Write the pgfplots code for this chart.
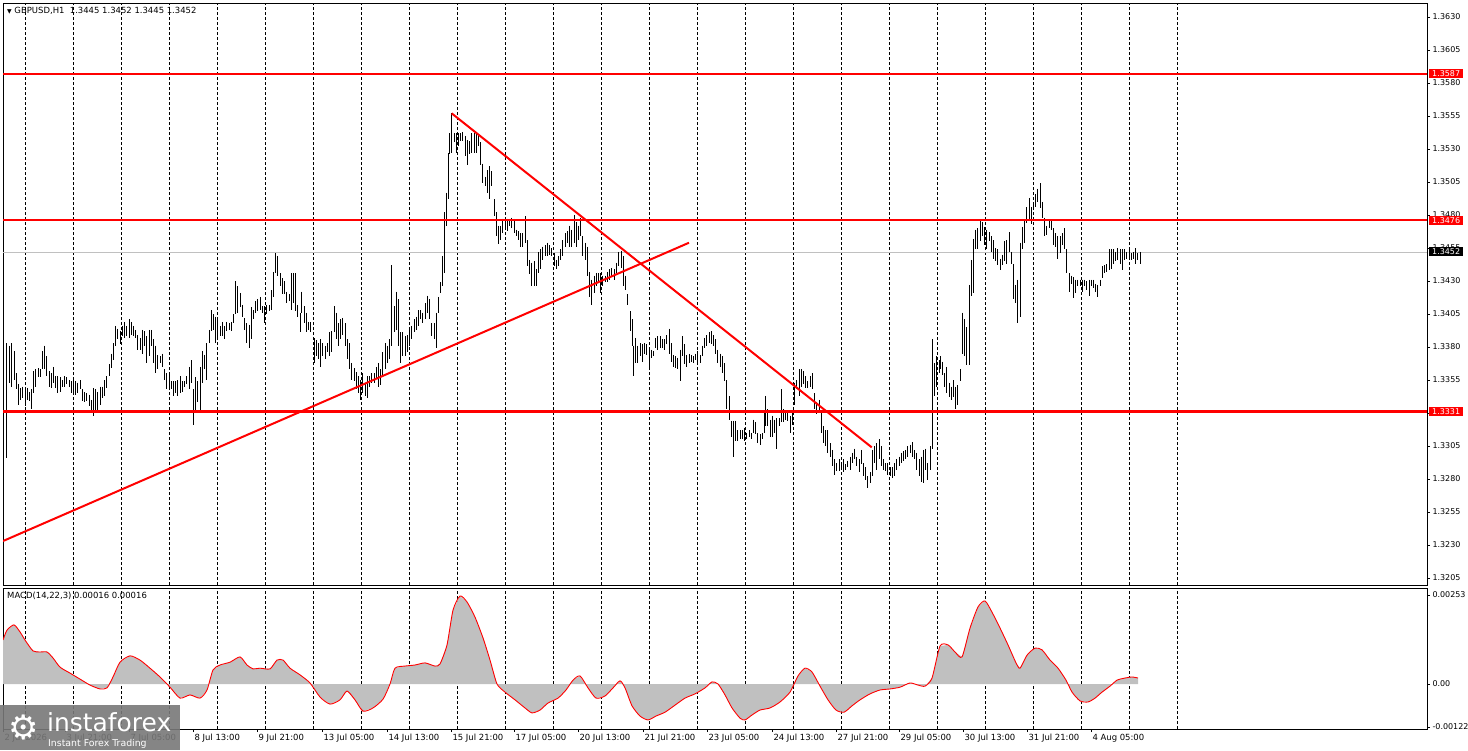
\documentclass[border=0pt]{standalone}
\usepackage{pgfplots}
\pgfplotsset{compat=1.18}
\usepackage{pgfplotstable}
\usepackage{fontspec}
\setmainfont{DejaVu Sans}
\definecolor{silver}{HTML}{C0C0C0}
\definecolor{logogray}{RGB}{120,120,120}

\pgfplotstableread{
x hi lo
3.3 1.3444 1.3325
6.7 1.3383 1.3296
9.0 1.3381 1.3353
11.7 1.3383 1.3350
14.0 1.3377 1.3355
16.0 1.3360 1.3348
18.3 1.3352 1.3336
20.7 1.3349 1.3340
22.7 1.3350 1.3341
25.0 1.3348 1.3335
27.3 1.3349 1.3340
29.3 1.3346 1.3339
31.7 1.3348 1.3333
33.3 1.3362 1.3345
35.7 1.3363 1.3350
38.0 1.3364 1.3357
40.0 1.3363 1.3357
42.3 1.3377 1.3363
44.3 1.3381 1.3363
46.7 1.3373 1.3358
49.0 1.3362 1.3350
51.0 1.3360 1.3349
53.3 1.3365 1.3353
55.7 1.3358 1.3349
57.7 1.3358 1.3345
60.0 1.3357 1.3346
62.3 1.3355 1.3350
64.3 1.3358 1.3350
66.7 1.3357 1.3352
69.0 1.3355 1.3350
71.0 1.3354 1.3345
73.3 1.3355 1.3345
75.7 1.3354 1.3344
77.7 1.3353 1.3345
80.0 1.3355 1.3348
82.3 1.3348 1.3339
84.3 1.3346 1.3338
86.7 1.3345 1.3339
89.0 1.3344 1.3335
91.0 1.3340 1.3331
93.3 1.3349 1.3328
95.7 1.3348 1.3330
97.7 1.3346 1.3331
100.0 1.3350 1.3336
102.3 1.3350 1.3341
104.3 1.3355 1.3343
106.7 1.3358 1.3349
109.0 1.3367 1.3358
111.0 1.3375 1.3364
113.3 1.3383 1.3370
115.7 1.3396 1.3381
117.7 1.3394 1.3386
120.0 1.3392 1.3382
122.3 1.3396 1.3388
124.3 1.3399 1.3387
126.7 1.3396 1.3388
129.0 1.3401 1.3387
131.0 1.3399 1.3389
133.3 1.3396 1.3388
135.7 1.3393 1.3387
137.7 1.3389 1.3378
140.0 1.3387 1.3378
142.3 1.3393 1.3375
144.3 1.3392 1.3381
146.7 1.3388 1.3368
149.0 1.3393 1.3373
151.0 1.3393 1.3381
153.3 1.3386 1.3368
155.7 1.3381 1.3360
157.7 1.3374 1.3363
160.0 1.3373 1.3368
162.3 1.3375 1.3365
164.3 1.3363 1.3355
166.7 1.3360 1.3348
169.0 1.3360 1.3349
171.0 1.3354 1.3348
173.3 1.3354 1.3343
175.7 1.3354 1.3345
177.7 1.3355 1.3343
180.0 1.3358 1.3345
182.3 1.3354 1.3346
184.3 1.3354 1.3350
186.7 1.3358 1.3352
189.0 1.3365 1.3348
191.0 1.3370 1.3353
193.3 1.3348 1.3321
195.7 1.3357 1.3331
197.7 1.3354 1.3338
200.0 1.3365 1.3331
202.3 1.3377 1.3353
204.3 1.3374 1.3363
206.7 1.3383 1.3355
209.0 1.3393 1.3383
211.0 1.3408 1.3392
213.3 1.3405 1.3393
215.7 1.3403 1.3383
217.7 1.3401 1.3386
220.0 1.3396 1.3388
222.3 1.3399 1.3388
224.3 1.3396 1.3386
226.7 1.3399 1.3392
229.0 1.3398 1.3393
231.0 1.3399 1.3392
233.3 1.3405 1.3398
235.7 1.3430 1.3405
237.7 1.3426 1.3406
240.0 1.3421 1.3410
242.3 1.3412 1.3403
244.3 1.3402 1.3393
246.7 1.3398 1.3383
249.0 1.3397 1.3379
251.0 1.3410 1.3386
253.3 1.3408 1.3401
255.7 1.3415 1.3406
257.7 1.3416 1.3407
260.0 1.3418 1.3408
262.3 1.3411 1.3406
264.3 1.3411 1.3398
266.7 1.3412 1.3405
269.0 1.3412 1.3407
271.0 1.3423 1.3408
273.3 1.3437 1.3418
275.7 1.3451 1.3436
277.7 1.3449 1.3434
280.0 1.3436 1.3426
282.3 1.3432 1.3420
284.3 1.3430 1.3420
286.7 1.3422 1.3413
289.0 1.3420 1.3415
291.0 1.3436 1.3408
293.3 1.3436 1.3413
295.7 1.3436 1.3407
297.7 1.3412 1.3403
300.0 1.3406 1.3391
301.7 1.3422 1.3406
304.0 1.3411 1.3398
306.0 1.3406 1.3391
308.3 1.3399 1.3393
310.7 1.3399 1.3391
314.0 1.3387 1.3368
316.0 1.3385 1.3373
318.3 1.3383 1.3371
320.7 1.3386 1.3365
322.7 1.3383 1.3373
325.0 1.3381 1.3371
327.3 1.3383 1.3376
329.3 1.3391 1.3373
331.7 1.3392 1.3376
334.0 1.3411 1.3391
336.0 1.3406 1.3386
338.3 1.3398 1.3381
340.7 1.3401 1.3386
342.7 1.3402 1.3389
345.0 1.3398 1.3381
347.3 1.3386 1.3371
349.3 1.3383 1.3363
351.7 1.3368 1.3355
354.0 1.3364 1.3354
356.0 1.3361 1.3348
358.3 1.3358 1.3345
360.7 1.3355 1.3340
362.7 1.3360 1.3345
365.0 1.3353 1.3343
367.3 1.3358 1.3341
369.3 1.3358 1.3350
371.7 1.3360 1.3353
374.0 1.3360 1.3353
376.0 1.3365 1.3356
378.3 1.3368 1.3350
380.7 1.3363 1.3351
382.7 1.3376 1.3358
385.0 1.3383 1.3363
387.3 1.3381 1.3368
389.3 1.3386 1.3371
391.7 1.3442 1.3381
394.0 1.3411 1.3391
396.0 1.3422 1.3393
398.3 1.3416 1.3381
400.7 1.3391 1.3368
402.7 1.3391 1.3373
405.0 1.3388 1.3373
407.3 1.3389 1.3376
409.3 1.3393 1.3381
411.7 1.3396 1.3386
414.0 1.3401 1.3391
416.0 1.3403 1.3393
418.3 1.3408 1.3396
420.7 1.3408 1.3401
422.7 1.3406 1.3398
425.0 1.3413 1.3401
427.3 1.3419 1.3406
429.3 1.3416 1.3401
431.7 1.3398 1.3388
434.0 1.3398 1.3386
436.0 1.3406 1.3379
438.3 1.3418 1.3406
440.7 1.3429 1.3421
442.7 1.3449 1.3426
444.0 1.3482 1.3436
446.0 1.3497 1.3472
448.3 1.3527 1.3492
449.3 1.3542 1.3526
451.7 1.3557 1.3527
454.0 1.3542 1.3535
456.0 1.3542 1.3527
458.3 1.3542 1.3532
460.7 1.3542 1.3536
462.7 1.3543 1.3536
465.0 1.3540 1.3525
467.3 1.3537 1.3518
469.3 1.3536 1.3526
471.7 1.3542 1.3527
474.0 1.3542 1.3527
476.0 1.3542 1.3527
478.3 1.3541 1.3532
480.7 1.3535 1.3518
482.7 1.3519 1.3504
485.0 1.3509 1.3502
487.3 1.3514 1.3497
489.3 1.3517 1.3492
491.7 1.3513 1.3502
494.0 1.3492 1.3479
496.0 1.3482 1.3464
498.3 1.3472 1.3458
500.7 1.3472 1.3461
502.7 1.3477 1.3466
505.0 1.3478 1.3469
507.3 1.3477 1.3468
509.3 1.3477 1.3472
511.7 1.3478 1.3470
514.0 1.3477 1.3466
516.0 1.3469 1.3464
518.3 1.3468 1.3461
520.7 1.3466 1.3456
522.7 1.3466 1.3456
525.0 1.3479 1.3459
527.3 1.3461 1.3441
529.3 1.3446 1.3435
531.7 1.3444 1.3426
534.0 1.3445 1.3426
536.0 1.3439 1.3426
538.3 1.3452 1.3436
540.7 1.3454 1.3439
542.7 1.3456 1.3446
545.0 1.3457 1.3449
547.3 1.3459 1.3449
549.3 1.3457 1.3450
551.7 1.3455 1.3449
554.0 1.3451 1.3441
556.0 1.3446 1.3439
558.3 1.3449 1.3441
560.7 1.3454 1.3446
562.7 1.3461 1.3449
565.0 1.3466 1.3456
567.3 1.3468 1.3459
569.3 1.3472 1.3456
571.7 1.3469 1.3456
574.0 1.3480 1.3459
576.0 1.3475 1.3456
578.3 1.3472 1.3461
580.7 1.3478 1.3464
582.7 1.3464 1.3449
585.0 1.3459 1.3446
587.3 1.3456 1.3434
589.3 1.3437 1.3418
591.7 1.3431 1.3412
594.0 1.3434 1.3421
596.0 1.3436 1.3426
598.3 1.3436 1.3429
600.7 1.3436 1.3421
602.7 1.3434 1.3426
605.0 1.3434 1.3429
607.3 1.3437 1.3429
609.3 1.3439 1.3431
611.7 1.3440 1.3434
614.0 1.3439 1.3431
616.0 1.3444 1.3436
618.3 1.3452 1.3441
621.0 1.3453 1.3440
623.3 1.3449 1.3426
625.7 1.3434 1.3423
627.7 1.3420 1.3412
630.0 1.3407 1.3392
632.3 1.3401 1.3381
633.3 1.3381 1.3358
635.7 1.3387 1.3368
637.7 1.3381 1.3368
640.0 1.3383 1.3373
642.3 1.3382 1.3369
644.3 1.3383 1.3375
646.7 1.3382 1.3374
649.0 1.3379 1.3363
651.0 1.3378 1.3372
653.3 1.3377 1.3373
655.7 1.3387 1.3379
657.7 1.3388 1.3378
660.0 1.3388 1.3379
662.3 1.3386 1.3379
664.3 1.3386 1.3378
666.7 1.3389 1.3382
669.0 1.3394 1.3375
671.0 1.3383 1.3369
673.3 1.3374 1.3365
675.7 1.3373 1.3364
677.7 1.3372 1.3363
680.0 1.3378 1.3354
682.3 1.3388 1.3373
684.3 1.3382 1.3367
686.7 1.3374 1.3365
689.0 1.3375 1.3368
691.0 1.3374 1.3369
693.3 1.3373 1.3368
695.7 1.3375 1.3370
697.7 1.3377 1.3368
700.0 1.3374 1.3368
702.3 1.3381 1.3373
704.3 1.3387 1.3379
706.7 1.3389 1.3381
709.0 1.3391 1.3383
711.0 1.3392 1.3382
713.3 1.3389 1.3381
715.7 1.3386 1.3375
717.7 1.3378 1.3368
720.0 1.3375 1.3365
722.3 1.3373 1.3360
724.3 1.3368 1.3354
726.7 1.3355 1.3333
729.0 1.3343 1.3325
731.0 1.3324 1.3312
733.3 1.3324 1.3297
735.7 1.3324 1.3309
737.7 1.3317 1.3309
740.0 1.3317 1.3310
742.3 1.3317 1.3310
744.3 1.3319 1.3309
746.7 1.3315 1.3310
749.0 1.3317 1.3312
751.0 1.3315 1.3310
753.3 1.3325 1.3315
755.7 1.3323 1.3314
757.7 1.3315 1.3307
760.0 1.3314 1.3306
762.3 1.3315 1.3310
764.3 1.3330 1.3315
765.7 1.3343 1.3320
767.7 1.3333 1.3320
770.0 1.3325 1.3312
772.3 1.3328 1.3312
774.3 1.3325 1.3315
776.7 1.3326 1.3303
779.0 1.3326 1.3320
781.0 1.3348 1.3323
783.3 1.3333 1.3323
785.7 1.3331 1.3325
787.7 1.3331 1.3324
790.0 1.3328 1.3315
792.3 1.3331 1.3321
794.3 1.3353 1.3336
796.7 1.3355 1.3348
799.0 1.3363 1.3343
801.0 1.3363 1.3350
803.3 1.3362 1.3352
805.7 1.3358 1.3349
807.7 1.3354 1.3349
810.0 1.3358 1.3350
812.3 1.3360 1.3348
814.3 1.3345 1.3333
816.7 1.3338 1.3329
819.0 1.3340 1.3330
821.0 1.3330 1.3315
823.3 1.3320 1.3307
825.7 1.3317 1.3305
827.7 1.3317 1.3300
830.0 1.3307 1.3297
832.3 1.3302 1.3290
834.3 1.3295 1.3283
836.7 1.3292 1.3286
839.0 1.3295 1.3286
841.0 1.3292 1.3287
843.3 1.3295 1.3285
845.7 1.3291 1.3287
847.7 1.3294 1.3289
850.0 1.3297 1.3287
852.3 1.3300 1.3292
854.3 1.3303 1.3295
856.7 1.3297 1.3290
859.0 1.3295 1.3285
861.0 1.3302 1.3291
863.3 1.3292 1.3282
865.7 1.3289 1.3279
867.7 1.3282 1.3273
870.0 1.3285 1.3277
872.3 1.3302 1.3282
874.3 1.3305 1.3292
876.7 1.3307 1.3287
879.0 1.3310 1.3295
881.0 1.3305 1.3290
883.3 1.3295 1.3287
885.7 1.3292 1.3286
887.7 1.3292 1.3283
890.0 1.3289 1.3282
892.3 1.3289 1.3281
894.3 1.3292 1.3282
896.7 1.3295 1.3287
899.0 1.3297 1.3290
901.0 1.3300 1.3292
903.3 1.3301 1.3294
905.7 1.3302 1.3295
907.7 1.3305 1.3297
910.0 1.3306 1.3300
912.3 1.3308 1.3297
914.3 1.3302 1.3295
916.7 1.3300 1.3287
919.0 1.3295 1.3282
921.0 1.3297 1.3278
923.3 1.3302 1.3277
925.7 1.3303 1.3287
927.7 1.3292 1.3279
930.0 1.3305 1.3287
932.3 1.3386 1.3303
934.3 1.3368 1.3343
936.7 1.3373 1.3350
939.0 1.3370 1.3360
940.7 1.3373 1.3363
942.7 1.3369 1.3359
944.3 1.3360 1.3350
946.7 1.3365 1.3345
949.0 1.3353 1.3342
951.0 1.3350 1.3340
953.3 1.3355 1.3342
955.7 1.3350 1.3333
957.7 1.3351 1.3336
960.0 1.3363 1.3354
962.3 1.3406 1.3375
964.3 1.3401 1.3373
966.7 1.3395 1.3366
969.0 1.3427 1.3366
971.0 1.3446 1.3419
973.3 1.3462 1.3421
975.7 1.3469 1.3454
977.7 1.3470 1.3454
980.0 1.3476 1.3460
982.3 1.3475 1.3464
984.3 1.3471 1.3457
986.7 1.3469 1.3454
989.0 1.3467 1.3460
991.0 1.3464 1.3452
993.3 1.3461 1.3447
995.7 1.3455 1.3445
997.7 1.3454 1.3442
1000.0 1.3447 1.3438
1002.3 1.3450 1.3442
1004.3 1.3460 1.3445
1006.7 1.3461 1.3443
1009.0 1.3467 1.3452
1011.0 1.3452 1.3443
1013.3 1.3443 1.3416
1015.7 1.3427 1.3413
1017.7 1.3431 1.3398
1020.0 1.3459 1.3403
1022.3 1.3471 1.3454
1024.3 1.3476 1.3459
1026.7 1.3486 1.3474
1029.0 1.3493 1.3476
1031.0 1.3486 1.3473
1033.3 1.3490 1.3484
1035.7 1.3496 1.3486
1037.7 1.3500 1.3490
1040.0 1.3504 1.3485
1042.3 1.3490 1.3478
1044.3 1.3478 1.3464
1046.7 1.3472 1.3465
1049.0 1.3476 1.3470
1051.0 1.3476 1.3469
1053.3 1.3470 1.3457
1055.7 1.3466 1.3456
1057.7 1.3464 1.3447
1060.0 1.3464 1.3451
1062.3 1.3466 1.3457
1064.3 1.3470 1.3454
1066.7 1.3454 1.3436
1069.0 1.3436 1.3422
1071.0 1.3434 1.3428
1073.3 1.3433 1.3417
1075.7 1.3431 1.3421
1077.7 1.3431 1.3426
1080.0 1.3431 1.3426
1082.3 1.3431 1.3422
1084.3 1.3431 1.3426
1086.7 1.3430 1.3423
1089.0 1.3431 1.3419
1091.0 1.3431 1.3426
1093.3 1.3431 1.3425
1095.7 1.3428 1.3422
1097.7 1.3427 1.3418
1100.0 1.3431 1.3426
1102.3 1.3441 1.3432
1104.3 1.3442 1.3436
1106.7 1.3443 1.3437
1109.0 1.3454 1.3438
1111.0 1.3454 1.3439
1113.3 1.3454 1.3443
1115.7 1.3452 1.3445
1117.7 1.3455 1.3446
1120.0 1.3454 1.3443
1122.3 1.3454 1.3438
1124.3 1.3454 1.3446
1126.7 1.3452 1.3447
1129.0 1.3454 1.3446
1131.0 1.3451 1.3446
1133.3 1.3452 1.3447
1135.7 1.3455 1.3443
1137.7 1.3451 1.3446
1140.0 1.3452 1.3443
}\bars

\pgfplotstableread{
x v
3 0.00125
7 0.00153
14 0.00168
20 0.00148
25 0.00125
33 0.00094
40 0.00091
47 0.00091
53 0.00074
60 0.00048
70 0.00031
80 0.00014
90 -0.00003
100 -0.00014
107 -0.00011
113 0.00020
120 0.00062
130 0.00080
140 0.00068
150 0.00045
160 0.00020
170 -0.00009
180 -0.00040
190 -0.00031
200 -0.00040
207 -0.00017
213 0.00040
220 0.00054
230 0.00062
240 0.00077
247 0.00054
253 0.00043
260 0.00045
270 0.00043
277 0.00068
283 0.00068
290 0.00045
300 0.00026
310 0.00003
320 -0.00037
330 -0.00057
340 -0.00045
347 -0.00020
355 -0.00045
363 -0.00077
373 -0.00068
383 -0.00043
390 0.00000
395 0.00045
405 0.00051
415 0.00054
425 0.00060
435 0.00051
440 0.00057
447 0.00111
453 0.00210
460 0.00250
467 0.00233
475 0.00190
483 0.00131
490 0.00068
497 0.00000
505 -0.00023
515 -0.00045
525 -0.00068
532 -0.00082
540 -0.00074
548 -0.00054
558 -0.00040
566 -0.00017
573 0.00011
580 0.00023
588 -0.00011
596 -0.00040
605 -0.00034
613 -0.00011
620 0.00009
625 -0.00011
632 -0.00062
640 -0.00091
648 -0.00102
656 -0.00091
665 -0.00080
675 -0.00060
685 -0.00040
695 -0.00028
705 -0.00011
712 0.00006
718 0.00000
725 -0.00031
732 -0.00068
740 -0.00097
745 -0.00102
752 -0.00088
760 -0.00074
770 -0.00068
780 -0.00051
790 -0.00023
798 0.00023
805 0.00045
812 0.00034
820 -0.00006
828 -0.00045
836 -0.00074
844 -0.00080
852 -0.00062
860 -0.00045
870 -0.00028
880 -0.00017
890 -0.00014
900 -0.00009
910 0.00003
918 -0.00003
925 -0.00006
932 0.00017
940 0.00108
948 0.00111
955 0.00091
962 0.00077
970 0.00159
978 0.00219
985 0.00236
992 0.00204
1000 0.00159
1008 0.00111
1016 0.00060
1020 0.00045
1027 0.00082
1035 0.00102
1042 0.00097
1050 0.00068
1058 0.00045
1066 0.00011
1072 -0.00023
1080 -0.00048
1088 -0.00051
1095 -0.00040
1102 -0.00023
1110 -0.00006
1117 0.00011
1125 0.00017
1132 0.00020
1138 0.00017
}\macd

\begin{document}
\begin{tikzpicture}[x=1bp,y=1bp]
\useasboundingbox (0,0) rectangle (1468,-750);
\begin{axis}[
  at={(3bp,-3bp)}, anchor=north west, scale only axis,
  width=1424bp, height=582bp,
  xmin=3, xmax=1427, ymin=1.31997, ymax=1.36406,
  clip mode=individual,
  axis line style={black, line width=0.8bp},
  xtick={25,73,...,1177}, xticklabels={}, xmajorgrids, xtick style={draw=none},
  grid style={black, dash pattern=on 3bp off 2bp, line width=0.7bp},
  ytick={1.3205,1.3230,1.3255,1.3280,1.3305,1.3330,1.3355,1.3380,1.3405,1.3430,1.3455,1.3480,1.3505,1.3530,1.3555,1.3580,1.3605,1.3630},
  ytick pos=right, yticklabel pos=right, tick align=outside, major tick length=3bp,
  ytick style={black, line width=0.8bp},
  scaled y ticks=false,
  /pgf/number format/assume math mode=true,
  yticklabel style={font=\fontsize{8}{9}\selectfont, anchor=west, xshift=-1bp,
    /pgf/number format/fixed, /pgf/number format/fixed zerofill, /pgf/number format/precision=4},
]
\addplot[silver, line width=0.8bp] coordinates {(3,1.3452) (1427,1.3452)};
\addplot[draw=none, mark=none, error bars/.cd, y dir=minus, y explicit, error mark=none,
  error bar style={draw=black, line width=0.9bp}]
  table[x=x, y=hi, y error minus expr=\thisrow{hi}-\thisrow{lo}] {\bars};
\addplot[red, line width=2.4bp] coordinates {(3,1.3587) (1427,1.3587)};
\addplot[red, line width=2.4bp] coordinates {(3,1.3476) (1427,1.3476)};
\addplot[red, line width=2.4bp] coordinates {(3,1.3331) (1427,1.3331)};
\addplot[red, line width=2bp] coordinates {(3,1.3233) (689,1.3459)};
\addplot[red, line width=2bp] coordinates {(451.7,1.3557) (871.7,1.3304)};
\coordinate (t1) at (axis cs:1427,1.3587);
\coordinate (t2) at (axis cs:1427,1.3476);
\coordinate (t3) at (axis cs:1427,1.3331);
\coordinate (t4) at (axis cs:1427,1.3452);
\end{axis}

\begin{axis}[
  at={(3bp,-588bp)}, anchor=north west, scale only axis,
  width=1424bp, height=141bp,
  xmin=3, xmax=1427, ymin=-0.001278, ymax=0.002727,
  clip mode=individual,
  axis line style={black, line width=0.8bp},
  xtick={3,65,129,193,257,322,387,451,514,578,643,707,772,836,899,963,1027,1091},
  xticklabels={2 Jul 2026,3 Jul 21:00,7 Jul 05:00,8 Jul 13:00,9 Jul 21:00,13 Jul 05:00,14 Jul 13:00,15 Jul 21:00,17 Jul 05:00,20 Jul 13:00,21 Jul 21:00,23 Jul 05:00,24 Jul 13:00,27 Jul 21:00,29 Jul 05:00,30 Jul 13:00,31 Jul 21:00,4 Aug 05:00},
  xtick pos=bottom,
  xticklabel style={font=\fontsize{8.5}{10}\selectfont, anchor=north west, xshift=-2bp, yshift=1bp},
  extra x ticks={25,73,...,1177}, extra x tick labels={},
  extra x tick style={grid=major, xtick style={draw=none}},
  grid style={black, dash pattern=on 3bp off 2bp, line width=0.7bp},
  ytick={-0.00122,0,0.00253}, yticklabels={-0.00122,0.00,0.00253},
  ytick pos=right, yticklabel pos=right, tick align=outside, major tick length=3bp,
  tick style={black, line width=0.8bp},
  scaled y ticks=false,
  yticklabel style={font=\fontsize{8}{9}\selectfont, anchor=west, xshift=-1bp},
]
\addplot[fill=silver, draw=none] table[x=x, y=v] {\macd} \closedcycle;
\addplot[red, line width=0.9bp, smooth, tension=0.4] table[x=x, y=v] {\macd};
\end{axis}

\foreach \c/\t/\col in {t1/1.3587/red, t2/1.3476/red, t3/1.3331/red, t4/1.3452/black}
  \node[fill=\col, text=white, anchor=west, inner xsep=3bp, inner ysep=1.5bp,
    font=\fontsize{8}{9}\selectfont, xshift=2bp] at (\c) {\t};

\node[anchor=west, inner sep=0, font=\fontsize{8.5}{10}\selectfont] at (7bp,-11bp)
  {{\fontsize{6}{6}\selectfont ▼} GBPUSD,H1\ \ 1.3445 1.3452 1.3445 1.3452};
\node[anchor=west, inner sep=0, font=\fontsize{8.5}{10}\selectfont] at (7bp,-596bp)
  {MACD(14,22,3) 0.00016 0.00016};

\fill[logogray, opacity=0.9] (0bp,-705bp) rectangle (180bp,-750bp);
\node[white, font=\fontsize{34}{34}\selectfont, inner sep=0] at (24bp,-727bp) {⚙};
\node[white, anchor=base west, font=\fontsize{25}{25}\selectfont, inner sep=0] at (47bp,-731bp) {instaforex};
\node[white, anchor=base west, font=\fontsize{9.4}{10}\selectfont, inner sep=0] at (48bp,-746bp) {Instant Forex Trading};
\end{tikzpicture}
\end{document}
